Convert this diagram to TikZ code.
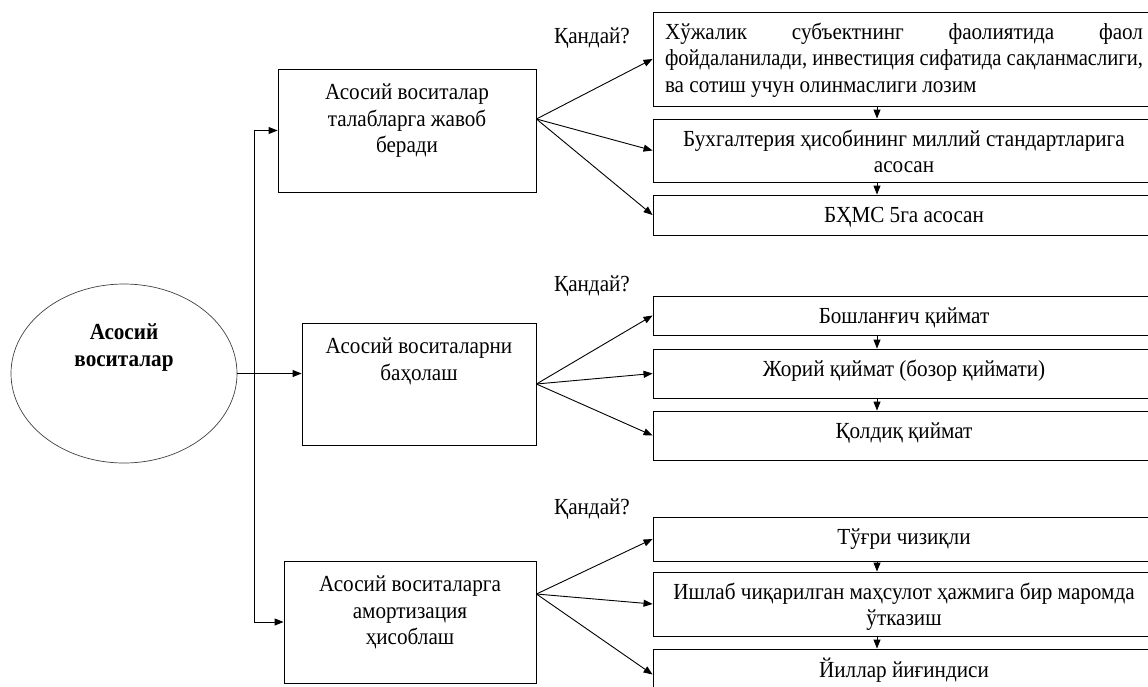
\documentclass[tikz,border=0pt]{standalone}
\usepackage{fontspec}
\usepackage{graphicx}
\setmainfont[FakeStretch=0.92]{Liberation Serif}
\usetikzlibrary{shapes,arrows,arrows.meta,positioning}
\newcommand{\tbox}[3]{\parbox[c][#2][t]{#1}{\vspace*{2.5pt}\centering\strut #3}}
\newcommand{\fan}[2]{\draw[arr] (#1) -- (#2.west)}
\newcommand{\down}[2]{\draw[arr] (#1.south -| ax) -- (#2.north -| ax)}

\begin{document}
\begin{tikzpicture}[x=1pt, y=-1pt,
    every node/.style={font=\fontsize{23}{26.5}\selectfont},
    arr/.style={-{Triangle[length=9pt,width=7pt]}, line width=0.9pt},
    lbox/.style={draw, line width=0.9pt, inner xsep=0pt, inner ysep=9.5pt},
    rbox/.style={draw, line width=0.9pt, inner xsep=12pt, inner ysep=6pt}]
    \useasboundingbox (0,0) rectangle (1148,686);
    \node[draw=black!75, ellipse, line width=0.7pt, minimum width=226pt, minimum height=179pt] (os) at (124,373.5) {};
    \node[font=\fontsize{23}{27}\selectfont\bfseries, align=center] (ost) at (124,348) {Асосий\\воситалар};
    \node[lbox] (talab) at (407,130.5) {\tbox{258pt}{104pt}{Асосий воситалар\\ талабларга жавоб\\ беради}};
    \node[lbox] (baho) at (419,384) {\tbox{234pt}{103pt}{Асосий воситаларни\\ баҳолаш}};
    \node[lbox] (amort) at (410,622) {\tbox{252pt}{103pt}{Асосий воситаларга\\ амортизация\\ ҳисоблаш}};
    \node[rbox] (t1) at (904,59) {\parbox[c][82pt][t]{478pt}{\vspace*{2.5pt}\strut\makebox[\linewidth][s]{Хўжалик субъектнинг фаолиятида фаол}\\ \resizebox{\linewidth}{\height}{фойдаланилади, инвестиция сифатида сақланмаслиги,}\\ ва сотиш учун олинмаслиги лозим}};
    \node[rbox] (t2) at (904,150.5) {\tbox{478pt}{51pt}{Бухгалтерия ҳисобининг миллий стандартларига\\ асосан}};
    \node[rbox] (t3) at (904,215) {\tbox{478pt}{28pt}{БҲМС 5га асосан}};
    \node[rbox] (b1) at (904,315.5) {\tbox{478pt}{27pt}{Бошланғич қиймат}};
    \node[rbox] (b2) at (904,373.5) {\tbox{478pt}{37pt}{Жорий қиймат (бозор қиймати)}};
    \node[rbox] (b3) at (904,435.5) {\tbox{478pt}{37pt}{Қолдиқ қиймат}};
    \node[rbox] (a1) at (904,539) {\tbox{478pt}{32pt}{Тўғри чизиқли}};
    \node[rbox] (a2) at (904,604) {\tbox{478pt}{52pt}{Ишлаб чиқарилган маҳсулот ҳажмига бир маромда\\ ўтказиш}};
    \node[rbox] (a3) at (904,674.5) {\tbox{478pt}{39pt}{Йиллар йиғиндиси}};
    \node (q1) at (592,38) {Қандай?};
    \node (q2) at (592,286) {Қандай?};
    \node (q3) at (592,509) {Қандай?};
    \coordinate (vb) at (254,0);
    \coordinate (ax) at (877,0);
    \draw[arr] (vb |- amort.west) |- (talab.west);
    \draw[arr] (vb |- amort.west) -- (amort.west);
    \draw[arr] (os.east) -- (os.east -| baho.west);
    \coordinate (fa) at ([yshift=11.5pt]talab.east);
    \coordinate (fc) at ([yshift=28pt]amort.east);
    \fan{fa}{t1};
    \fan{fa}{t2};
    \fan{fa}{t3};
    \fan{baho.east}{b1};
    \fan{baho.east}{b2};
    \fan{baho.east}{b3};
    \fan{fc}{a1};
    \fan{fc}{a2};
    \fan{fc}{a3};
    \down{t1}{t2};
    \down{t2}{t3};
    \down{b1}{b2};
    \down{b2}{b3};
    \down{a1}{a2};
    \down{a2}{a3};
\end{tikzpicture}
\end{document}
